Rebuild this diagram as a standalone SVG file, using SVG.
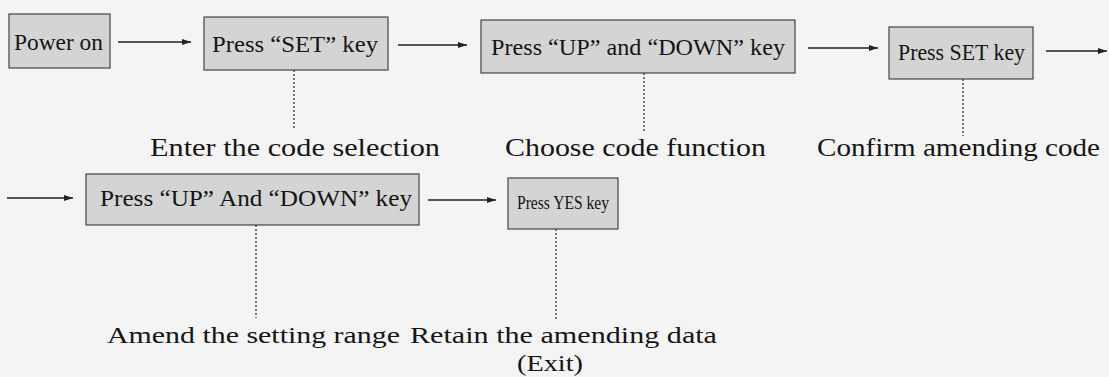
<svg xmlns="http://www.w3.org/2000/svg" width="1109" height="377" viewBox="0 0 1109 377">
<defs>
<marker id="ah" markerWidth="10" markerHeight="8" refX="9" refY="4" orient="auto" markerUnits="userSpaceOnUse">
<path d="M0,1 L9,4 L0,7 Z" fill="#222"/>
</marker>
<style>
.box{fill:#d4d4d4;stroke:#444;stroke-width:1.2}
.bt{font-family:"Liberation Serif",serif;font-size:23px;fill:#151515}
.bs{font-family:"Liberation Serif",serif;font-size:18px;fill:#151515}
.lb{font-family:"Liberation Serif",serif;font-size:26px;fill:#151515}
.lb2{font-family:"Liberation Serif",serif;font-size:24px;fill:#151515}
.ar{stroke:#222;stroke-width:1.3;fill:none;marker-end:url(#ah)}
.dt{stroke:#333;stroke-width:1.3;stroke-dasharray:2 2;fill:none}
</style>
</defs>
<rect x="0" y="0" width="1109" height="377" fill="#f4f4f4"/>
<g id="connectors">
<line class="ar" x1="118" y1="42" x2="191" y2="42"/>
<line class="ar" x1="398" y1="45" x2="467" y2="45"/>
<line class="ar" x1="808" y1="48" x2="878" y2="48"/>
<line class="ar" x1="1046" y1="51" x2="1107" y2="51"/>
<line class="ar" x1="7" y1="198" x2="73" y2="198"/>
<line class="ar" x1="428" y1="200" x2="496" y2="200"/>
<line class="dt" x1="294" y1="70" x2="294" y2="130"/>
<line class="dt" x1="644" y1="73" x2="644" y2="131"/>
<line class="dt" x1="963" y1="79" x2="963" y2="136"/>
<line class="dt" x1="256" y1="225" x2="256" y2="318"/>
<line class="dt" x1="556" y1="229" x2="556" y2="320"/>
</g>
<g id="n1"><rect class="box" x="9" y="14" width="101" height="54"/><text class="bt" x="14" y="50" textLength="89" lengthAdjust="spacingAndGlyphs">Power on</text></g>
<g id="n2"><rect class="box" x="204" y="17" width="184" height="53"/><text class="bt" x="212" y="52" textLength="166" lengthAdjust="spacingAndGlyphs">Press “SET” key</text></g>
<g id="n3"><rect class="box" x="481" y="20" width="314" height="53"/><text class="bt" x="491" y="55" textLength="294" lengthAdjust="spacingAndGlyphs">Press “UP” and “DOWN” key</text></g>
<g id="n4"><rect class="box" x="889" y="27" width="144" height="52"/><text class="bt" x="898" y="60" textLength="127" lengthAdjust="spacingAndGlyphs">Press SET key</text></g>
<g id="n5"><rect class="box" x="86" y="174" width="333" height="51"/><text class="bt" x="100" y="206" textLength="312" lengthAdjust="spacingAndGlyphs">Press  “UP”  And “DOWN” key</text></g>
<g id="n6"><rect class="box" x="508" y="178" width="110" height="51"/><text class="bs" x="517" y="209" textLength="92" lengthAdjust="spacingAndGlyphs">Press YES key</text></g>
<g id="labels">
<text class="lb" x="150" y="156" textLength="290" lengthAdjust="spacingAndGlyphs">Enter the code selection</text>
<text class="lb" x="505" y="156" textLength="261" lengthAdjust="spacingAndGlyphs">Choose code function</text>
<text class="lb" x="817" y="156" textLength="283" lengthAdjust="spacingAndGlyphs">Confirm amending code</text>
<text class="lb2" x="107" y="343" textLength="293" lengthAdjust="spacingAndGlyphs">Amend the setting range</text>
<text class="lb2" x="410" y="343" textLength="307" lengthAdjust="spacingAndGlyphs">Retain the amending data</text>
<text class="lb2" x="517" y="371" textLength="66" lengthAdjust="spacingAndGlyphs">(Exit)</text>
</g>
</svg>
